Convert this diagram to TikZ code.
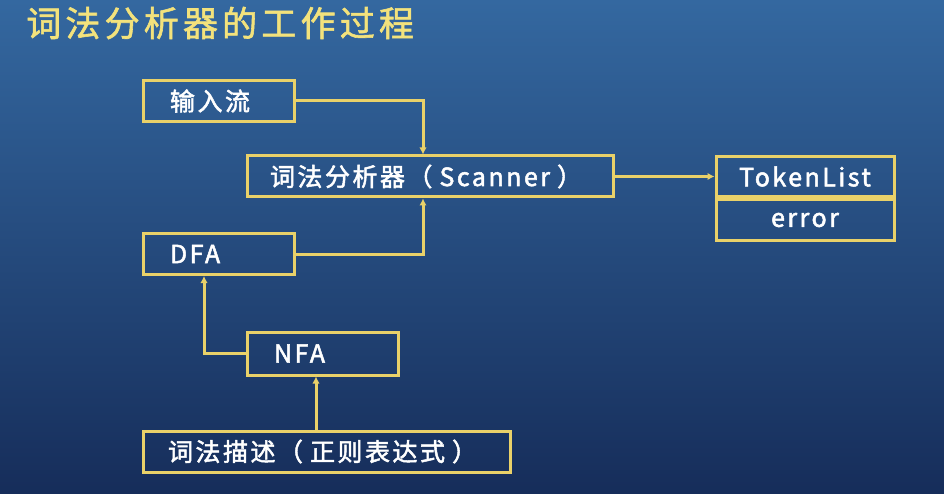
\documentclass[tikz,border=0pt]{standalone}
\usepackage{fontspec}
\usepackage{tikz}
\usetikzlibrary{positioning, arrows.meta, calc}
\newfontfamily\cjkspaced[LetterSpace=10, FakeBold=2]{Noto Sans CJK SC}
\newfontfamily\titlefont[LetterSpace=12, FakeBold=1.6]{Noto Sans CJK SC}
\definecolor{bgtop}{HTML}{3468A0}
\definecolor{bgmid}{HTML}{21467C}
\definecolor{bgbot}{HTML}{162D5A}
\definecolor{titlegold}{HTML}{F3E27C}
\definecolor{linegold}{HTML}{E9D169}
\newcommand{\pgap}{\hspace{7pt}}

\tikzset{
  stage/.style={draw=linegold, line width=3pt, text=white, minimum height=41pt,
    inner xsep=27pt, inner ysep=0pt, align=left, font=\cjkspaced\fontsize{25}{28}\selectfont},
  outbox/.style={draw=linegold, line width=3pt, text=white, minimum width=178pt,
    minimum height=40.5pt, inner sep=0pt, font=\cjkspaced\fontsize{25}{28}\selectfont},
  flow/.style={draw=linegold, line width=3pt, -{Latex[length=7pt,width=7.5pt]}}
}

\begin{document}
\begin{tikzpicture}[x=1pt, y=-1pt]

  % --- Sfondo ---
  \shade[top color=bgtop, middle color=bgmid, bottom color=bgbot]
    (0,0) rectangle (944,494);
  \useasboundingbox (0,0) rectangle (944,494);

  % --- Titolo ---
  \node[anchor=west, inner sep=0pt, text=titlegold,
    font=\titlefont\fontsize{35}{40}\selectfont] (title) at (26,23) {词法分析器的工作过程};

  % --- Riquadri ---
  \node[stage, text width=97pt]  (input)   at (218.5,101)  {输入流};
  \node[stage, text width=320pt, inner xsep=23pt] (scanner) at (430,176.5) {词法分析器（\pgap Scanner\pgap）};
  \node[stage, text width=97pt]  (dfa)     at (218.5,254)  {DFA};
  \node[stage, text width=97pt, minimum height=43pt] (nfa) at (322.5,353.5) {NFA};
  \node[stage, text width=317pt, inner xsep=25pt] (regex) at (326.5,451.5) {词法描述（\pgap 正则表达式\pgap）};

  % --- Uscite ---
  \node[outbox] (tokens) at (805,176.5) {TokenList};
  \node[outbox, below=0pt of tokens] (error) {error};

  % --- Frecce ---
  \draw[flow] (input.east) -| ([xshift=-7pt]scanner.north);
  \draw[flow] (dfa.east) -| ([xshift=-7pt]scanner.south);
  \draw[flow] (scanner.east) -- (tokens.west);
  \draw[flow] (nfa.west) -| ([xshift=-14.5pt]dfa.south);
  \draw[flow] ([xshift=-10.5pt]regex.north) -- ([xshift=-10.5pt]regex.north |- nfa.south);

\end{tikzpicture}
\end{document}
